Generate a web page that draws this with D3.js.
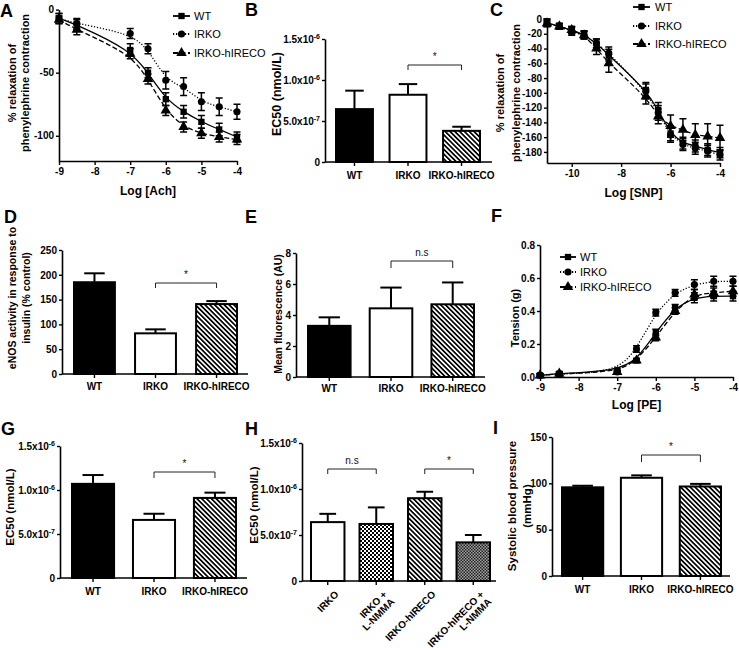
<!DOCTYPE html>
<html><head><meta charset="utf-8">
<script src="https://cdn.jsdelivr.net/npm/d3@7"></script>
<style>
body{margin:0;background:#fff;}
svg{display:block;}
</style></head><body>
<svg id="c" width="739" height="648"></svg>
<script>
// ================= DATA =================
const seriesNames = ["WT", "IRKO", "IRKO-hIRECO"];

// Panel A: relaxation to Ach
const achDoses = [-9, -8.5, -7, -6.5, -6, -5.5, -5, -4.5, -4];
const achWT = [-7, -12, -32, -50, -71, -81, -89, -95, -101];
const achWTErr = [4, 4, 5, 4, 5, 5, 5, 5, 4];
const achIRKO = [-7, -11, -19, -31, -56, -61, -73, -77, -81];
const achIRKOErr = [4, 4, 4, 4, 7, 7, 7, 7, 6];
const achHIRECO = [-8, -16, -35, -55, -80, -93, -98, -101, -103];
const achHIRECOErr = [3, 4, 4, 4, 4, 4, 4, 4, 4];

// Panel C: relaxation to SNP
const snpDoses = [-11, -10.5, -10, -9.5, -9, -8.5, -7, -6.5, -6, -5.5, -5, -4.5, -4];
const snpWT = [-5, -10, -15, -21, -33, -49, -96, -123, -155, -168, -172, -177, -181];
const snpWTErr = [5, 4, 5, 5, 6, 8, 10, 10, 10, 8, 8, 8, 7];
const snpIRKO = [-5, -10, -17, -22, -33, -46, -98, -127, -157, -170, -175, -179, -184];
const snpIRKOErr = [5, 4, 5, 5, 6, 8, 10, 10, 10, 8, 8, 8, 7];
const snpHIRECO = [-6, -10, -15, -22, -40, -60, -105, -132, -145, -150, -157, -159, -161];
const snpHIRECOErr = [4, 4, 5, 5, 8, 12, 10, 10, 15, 15, 15, 17, 17];

// Panel F: tension to PE
const peDoses = [-9, -8.5, -7, -6.5, -6, -5.5, -5, -4.5, -4];
const peWT = [0.01, 0.02, 0.04, 0.10, 0.27, 0.42, 0.48, 0.49, 0.49];
const peWTErr = [0.01, 0.01, 0.01, 0.01, 0.02, 0.02, 0.03, 0.03, 0.03];
const peIRKO = [0.01, 0.02, 0.03, 0.17, 0.39, 0.51, 0.56, 0.58, 0.58];
const peIRKOErr = [0.01, 0.01, 0.01, 0.02, 0.02, 0.02, 0.03, 0.03, 0.03];
const peHIRECO = [0.01, 0.02, 0.03, 0.10, 0.24, 0.40, 0.50, 0.51, 0.52];
const peHIRECOErr = [0.01, 0.01, 0.01, 0.01, 0.02, 0.02, 0.03, 0.03, 0.03];

// Bar panels
const mainGroups = ["WT", "IRKO", "IRKO-hIRECO"];
const ec50AchValues = [6.45e-7, 8.2e-7, 3.8e-7];
const ec50AchErrors = [2.25e-7, 1.3e-7, 0.5e-7];
const enosValues = [185, 82, 141];
const enosErrors = [18, 8, 6];
const fluorValues = [3.3, 4.43, 4.69];
const fluorErrors = [0.55, 1.34, 1.41];
const ec50PeValues = [1.07e-6, 6.6e-7, 9.1e-7];
const ec50PeErrors = [1.0e-7, 0.7e-7, 0.6e-7];
const nmmaGroups = ["IRKO", "IRKO + L-NMMA", "IRKO-hIRECO", "IRKO-hIRECO + L-NMMA"];
const nmmaValues = [6.4e-7, 6.2e-7, 9.0e-7, 4.2e-7];
const nmmaErrors = [0.9e-7, 1.8e-7, 0.7e-7, 0.8e-7];
const sbpValues = [95.7, 106, 96.6];
const sbpErrors = [1.7, 2.6, 2.8];

// Tick labels
const ec50Ticks = [0, 5e-7, 1e-6, 1.5e-6];
const ec50TickBase = ["0", "5.0x10", "1.0x10", "1.5x10"];
const ec50TickExp = ["", "-7", "-6", "-6"];
const achXTicks = [-9, -8, -7, -6, -5, -4];
const achYTicks = [0, -50, -100];
const snpXTicks = [-10, -8, -6, -4];
const snpYTicks = [0, -20, -40, -60, -80, -100, -120, -140, -160, -180];
const peXTicks = [-9, -8, -7, -6, -5, -4];
const peYTicks = [0, 0.2, 0.4, 0.6, 0.8];
const enosTicks = [0, 50, 100, 150, 200, 250];
const fluorTicks = [0, 2, 4, 6, 8];
const sbpTicks = [0, 50, 100, 150];

// ================= STYLES =================
const FONT = '"Liberation Sans", Arial, Helvetica, sans-serif';
const svg = d3.select("#c");
const defs = svg.append("defs");

const hatch = defs.append("pattern").attr("id", "hatch").attr("patternUnits", "userSpaceOnUse")
  .attr("width", 3.4).attr("height", 3.4).attr("patternTransform", "rotate(-45)");
hatch.append("rect").attr("width", 3.4).attr("height", 3.4).attr("fill", "#fff");
hatch.append("rect").attr("width", 1.7).attr("height", 3.4).attr("fill", "#000");

const chk = defs.append("pattern").attr("id", "check").attr("patternUnits", "userSpaceOnUse")
  .attr("width", 4).attr("height", 4);
chk.append("rect").attr("width", 4).attr("height", 4).attr("fill", "#fff");
chk.append("rect").attr("width", 2).attr("height", 2).attr("fill", "#000");
chk.append("rect").attr("x", 2).attr("y", 2).attr("width", 2).attr("height", 2).attr("fill", "#000");

const chkG = defs.append("pattern").attr("id", "checkGray").attr("patternUnits", "userSpaceOnUse")
  .attr("width", 3).attr("height", 3);
chkG.append("rect").attr("width", 3).attr("height", 3).attr("fill", "#a0a0a0");
chkG.append("rect").attr("width", 1.5).attr("height", 1.5).attr("fill", "#222");
chkG.append("rect").attr("x", 1.5).attr("y", 1.5).attr("width", 1.5).attr("height", 1.5).attr("fill", "#222");

const barFill = {
  "WT": "#000", "IRKO": "#fff", "IRKO-hIRECO": "url(#hatch)",
  "IRKO + L-NMMA": "url(#check)", "IRKO-hIRECO + L-NMMA": "url(#checkGray)"
};
const seriesDash = { "WT": null, "IRKO": "1.2,1.8", "IRKO-hIRECO": "5,2.5" };
const seriesSymbol = { "WT": d3.symbolSquare, "IRKO": d3.symbolCircle, "IRKO-hIRECO": d3.symbolTriangle };
const seriesSymbolSize = { "WT": 40, "IRKO": 40, "IRKO-hIRECO": 48 };

// ================= HELPERS =================
function styleAxis(g, fs) {
  g.attr("font-family", FONT).attr("font-size", fs).attr("font-weight", "bold");
  g.selectAll("path.domain").attr("stroke", "#000").attr("stroke-width", 1.6);
  g.selectAll(".tick line").attr("stroke", "#000").attr("stroke-width", 1.4);
  g.selectAll(".tick text").attr("fill", "#000");
}
function panelLetter(ch, x, y) {
  svg.append("text").attr("x", x).attr("y", y).attr("font-family", FONT)
    .attr("font-weight", "bold").attr("font-size", 18).text(ch);
}
function yTitle(lines, cx, cy, fs, lh) {
  const t = svg.append("text").attr("transform", `translate(${cx},${cy}) rotate(-90)`)
    .attr("text-anchor", "middle").attr("font-family", FONT).attr("font-weight", "bold")
    .attr("font-size", fs);
  const n = lines.length;
  lines.forEach((l, i) => {
    t.append("tspan").attr("x", 0)
      .attr("y", (i - (n - 1) / 2) * lh)
      .attr("dy", "0.35em").text(l);
  });
}

function barPanel(o) {
  const y = d3.scaleLinear().domain([0, o.max]).range([o.y0, o.yTop]);
  const x = d3.scaleBand().domain(o.groups).range(o.band).paddingInner(o.pad).paddingOuter(0);
  const g = svg.append("g");
  const bw = x.bandwidth();
  g.selectAll("rect.bar").data(o.groups).join("rect").attr("class", "bar")
    .attr("x", d => x(d)).attr("y", (d, i) => y(o.values[i]))
    .attr("width", bw).attr("height", (d, i) => o.y0 - y(o.values[i]))
    .attr("fill", d => barFill[d]).attr("stroke", "#000").attr("stroke-width", 2);
  o.groups.forEach((d, i) => {
    const cx = x(d) + bw / 2;
    const yt = y(o.values[i] + o.errors[i]);
    const cw = bw * 0.25;
    g.append("line").attr("x1", cx).attr("x2", cx).attr("y1", y(o.values[i])).attr("y2", yt)
      .attr("stroke", "#000").attr("stroke-width", 2);
    g.append("line").attr("x1", cx - cw).attr("x2", cx + cw).attr("y1", yt).attr("y2", yt)
      .attr("stroke", "#000").attr("stroke-width", 2);
  });
  // y axis
  const ya = g.append("g").attr("transform", `translate(${o.x0},0)`)
    .call(d3.axisLeft(y).tickValues(o.ticks).tickSize(3).tickPadding(2).tickSizeOuter(0)
      .tickFormat(d => String(d)));
  styleAxis(ya, 10);
  if (o.sup) {
    ya.selectAll(".tick text").each(function (d, i) {
      const t = d3.select(this).text(null);
      t.append("tspan").text(o.tickBase[i]);
      if (o.tickExp[i]) t.append("tspan").attr("dy", "-0.55em").attr("font-size", 7).text(o.tickExp[i]);
    });
  }
  // x axis line
  g.append("line").attr("x1", o.x0).attr("x2", o.xEnd).attr("y1", o.y0).attr("y2", o.y0)
    .attr("stroke", "#000").attr("stroke-width", 1.6);
  const xa = g.append("g").attr("transform", `translate(0,${o.y0})`)
    .call(d3.axisBottom(x).tickSize(4).tickPadding(o.labPad).tickSizeOuter(0));
  styleAxis(xa, 10);
  xa.select("path.domain").remove();
  if (o.rotate) {
    xa.selectAll(".tick text").each(function (d) {
      const parts = d.split(" + ");
      const lines = parts.length > 1 ? [parts[0] + " +", parts[1]] : [d];
      const t = d3.select(this).text(null).attr("y", null).attr("dy", null)
        .attr("text-anchor", "end")
        .attr("transform", `translate(${bw * 0.1 + 3},9) rotate(-45)`);
      lines.forEach((l, k) => t.append("tspan").attr("x", 0).attr("dy", k === 0 ? "0.72em" : "1.05em").text(l));
    });
  }
  // brackets
  o.brackets.forEach(b => {
    const xa1 = x(b.from) + bw / 2, xb1 = x(b.to) + bw / 2;
    g.append("path").attr("d", `M${xa1},${o.brY + o.brTick}V${o.brY}H${xb1}V${o.brY + o.brTick}`)
      .attr("fill", "none").attr("stroke", "#222").attr("stroke-width", 1);
    g.append("text").attr("x", (xa1 + xb1) / 2).attr("y", o.brY - 5).attr("text-anchor", "middle")
      .attr("font-family", FONT).attr("font-size", 10).attr("fill", "#111").text(b.label);
  });
}

function linePanel(o) {
  const x = d3.scaleLinear().domain(o.xDomain).range(o.xRange);
  const y = d3.scaleLinear().domain(o.yDomain).range(o.yRange);
  const g = svg.append("g");
  const ya = g.append("g").attr("transform", `translate(${o.xRange[0]},0)`)
    .call(d3.axisLeft(y).tickValues(o.yTicks).tickFormat(o.yFmt).tickSize(3).tickPadding(2).tickSizeOuter(0));
  styleAxis(ya, 10);
  const xa = g.append("g").attr("transform", `translate(0,${o.yRange[0]})`)
    .call(d3.axisBottom(x).tickValues(o.xTicks).tickFormat(d => String(d)).tickSize(4).tickPadding(3).tickSizeOuter(0));
  styleAxis(xa, 10);
  g.append("text").attr("x", (o.xRange[0] + o.xRange[1]) / 2).attr("y", o.titleY)
    .attr("text-anchor", "middle").attr("font-family", FONT).attr("font-weight", "bold")
    .attr("font-size", 12).text(o.xTitle);
  o.series.forEach(s => {
    const pts = o.doses.map((d, i) => [d, s.values[i], s.errors[i]]);
    pts.forEach(p => {
      const yt = y(p[1] + p[2]), yb = y(p[1] - p[2]), cx = x(p[0]);
      g.append("path").attr("d", `M${cx},${yt}V${yb}M${cx - 3.5},${yt}H${cx + 3.5}M${cx - 3.5},${yb}H${cx + 3.5}`)
        .attr("stroke", "#000").attr("stroke-width", 1.5).attr("fill", "none");
    });
    g.append("path").datum(pts)
      .attr("d", d3.line().x(p => x(p[0])).y(p => y(p[1])).curve(d3.curveBasis))
      .attr("fill", "none").attr("stroke", "#000").attr("stroke-width", 1.3)
      .attr("stroke-dasharray", seriesDash[s.name]);
    g.selectAll(null).data(pts).join("path")
      .attr("transform", p => `translate(${x(p[0])},${y(p[1])})`)
      .attr("d", d3.symbol(seriesSymbol[s.name], seriesSymbolSize[s.name])())
      .attr("fill", "#000");
  });
  // legend
  o.series.forEach((s, i) => {
    const ly = o.legRows[i];
    g.append("line").attr("x1", o.legLine[0]).attr("x2", o.legLine[1]).attr("y1", ly).attr("y2", ly)
      .attr("stroke", "#000").attr("stroke-width", 1.8).attr("stroke-dasharray", seriesDash[s.name]);
    g.append("path").attr("transform", `translate(${(o.legLine[0] + o.legLine[1]) / 2},${ly})`)
      .attr("d", d3.symbol(seriesSymbol[s.name], seriesSymbolSize[s.name])()).attr("fill", "#000");
    g.append("text").attr("x", o.legText).attr("y", ly).attr("dy", "0.35em")
      .attr("font-family", FONT).attr("font-size", 11).text(s.name);
  });
}

// ================= PANELS =================
// A
linePanel({
  xDomain: [-9, -4], xRange: [59, 237], yDomain: [-120, 0], yRange: [161, 9.6],
  xTicks: achXTicks, yTicks: achYTicks, yFmt: d => String(d), doses: achDoses,
  xTitle: "Log [Ach]", titleY: 195,
  series: [
    { name: seriesNames[0], values: achWT, errors: achWTErr },
    { name: seriesNames[1], values: achIRKO, errors: achIRKOErr },
    { name: seriesNames[2], values: achHIRECO, errors: achHIRECOErr }
  ],
  legLine: [173, 190], legText: 194, legRows: [16, 34, 53]
});
yTitle(["% relaxation of", "phenylephrine contraction"], 18.5, 83, 11, 13);
panelLetter("A", 0, 17);

// B
barPanel({
  groups: mainGroups, values: ec50AchValues, errors: ec50AchErrors,
  max: 1.5e-6, y0: 162, yTop: 39, x0: 325, xEnd: 492, band: [336, 480], pad: 0.31,
  ticks: ec50Ticks, sup: true, tickBase: ec50TickBase, tickExp: ec50TickExp, labPad: 6,
  brackets: [{ from: "IRKO", to: "IRKO-hIRECO", label: "*" }], brY: 65, brTick: 5
});
yTitle(["EC50 (nmol/L)"], 277, 94, 12.5, 13);
panelLetter("B", 245, 16);

// C
linePanel({
  xDomain: [-11, -4], xRange: [547, 720], yDomain: [-195, 0], yRange: [163, 19],
  xTicks: snpXTicks, yTicks: snpYTicks, yFmt: d => String(d), doses: snpDoses,
  xTitle: "Log [SNP]", titleY: 197,
  series: [
    { name: seriesNames[0], values: snpWT, errors: snpWTErr },
    { name: seriesNames[1], values: snpIRKO, errors: snpIRKOErr },
    { name: seriesNames[2], values: snpHIRECO, errors: snpHIRECOErr }
  ],
  legLine: [633, 650], legText: 655, legRows: [7, 26, 44]
});
yTitle(["% relaxation of", "phenylephrine contraction"], 508, 93, 11, 16);
panelLetter("C", 490, 16);

// D
barPanel({
  groups: mainGroups, values: enosValues, errors: enosErrors,
  max: 250, y0: 374, yTop: 250, x0: 62, xEnd: 248, band: [74, 237], pad: 0.33,
  ticks: enosTicks, labPad: 5,
  brackets: [{ from: "IRKO", to: "IRKO-hIRECO", label: "*" }], brY: 283, brTick: 5
});
yTitle(["eNOS activity in response to", "insulin (% control)"], 19, 298, 10.5, 14);
panelLetter("D", 4, 223);

// E
barPanel({
  groups: mainGroups, values: fluorValues, errors: fluorErrors,
  max: 8, y0: 377, yTop: 253, x0: 296, xEnd: 485, band: [308, 474], pad: 0.31,
  ticks: fluorTicks, labPad: 4,
  brackets: [{ from: "IRKO", to: "IRKO-hIRECO", label: "n.s" }], brY: 261, brTick: 7
});
yTitle(["Mean fluorescence (AU)"], 278, 314, 10.5, 13);
panelLetter("E", 245, 223);

// F
linePanel({
  xDomain: [-9, -4], xRange: [540, 733], yDomain: [0, 0.8], yRange: [377, 245],
  xTicks: peXTicks, yTicks: peYTicks, yFmt: d3.format(".1f"), doses: peDoses,
  xTitle: "Log [PE]", titleY: 409,
  series: [
    { name: seriesNames[0], values: peWT, errors: peWTErr },
    { name: seriesNames[1], values: peIRKO, errors: peIRKOErr },
    { name: seriesNames[2], values: peHIRECO, errors: peHIRECOErr }
  ],
  legLine: [560, 576], legText: 580, legRows: [257, 272, 287]
});
yTitle(["Tension (g)"], 515, 318, 11, 13);
panelLetter("F", 491, 222);

// G
barPanel({
  groups: mainGroups, values: ec50PeValues, errors: ec50PeErrors,
  max: 1.5e-6, y0: 578, yTop: 446, x0: 60, xEnd: 247, band: [72, 236], pad: 0.31,
  ticks: ec50Ticks, sup: true, tickBase: ec50TickBase, tickExp: ec50TickExp, labPad: 6,
  brackets: [{ from: "IRKO", to: "IRKO-hIRECO", label: "*" }], brY: 472, brTick: 6
});
yTitle(["EC50 (nmol/L)"], 10, 507, 11.5, 13);
panelLetter("G", 1, 435);

// H
barPanel({
  groups: nmmaGroups, values: nmmaValues, errors: nmmaErrors,
  max: 1.5e-6, y0: 581, yTop: 443, x0: 302, xEnd: 496, band: [311, 490], pad: 0.31,
  ticks: ec50Ticks, sup: true, tickBase: ec50TickBase, tickExp: ec50TickExp, labPad: 6, rotate: true,
  brackets: [{ from: "IRKO", to: "IRKO + L-NMMA", label: "n.s" },
             { from: "IRKO-hIRECO", to: "IRKO-hIRECO + L-NMMA", label: "*" }], brY: 469, brTick: 5
});
yTitle(["EC50 (nmol/L)"], 254, 505, 11.5, 13);
panelLetter("H", 245, 435);

// I
barPanel({
  groups: mainGroups, values: sbpValues, errors: sbpErrors,
  max: 150, y0: 576, yTop: 437, x0: 552, xEnd: 730, band: [562, 721], pad: 0.3,
  ticks: sbpTicks, labPad: 6,
  brackets: [{ from: "IRKO", to: "IRKO-hIRECO", label: "*" }], brY: 455, brTick: 7
});
yTitle(["Systolic blood pressure", "(mmHg)"], 519.5, 506, 11.5, 15);
panelLetter("I", 493, 434);
</script>
</body></html>
